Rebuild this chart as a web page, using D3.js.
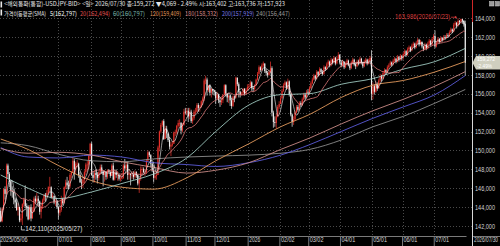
<!DOCTYPE html>
<html><head><meta charset="utf-8">
<script src="https://cdn.jsdelivr.net/npm/d3@7"></script>
<style>body{margin:0;background:#000;overflow:hidden}svg{display:block}</style>
</head><body><svg id="c" width="500" height="246"></svg>
<script>
// ---- data ----
const closes = [
142.5,143.8,145.9,145.4,148.4,147.5,146.7,145.7,145.6,144.8,144.5,143.7,144.0,142.6,142.8,144.3,144.8,144.1,144.0,
142.7,144.0,142.8,143.5,144.9,144.6,144.9,144.6,143.5,144.1,144.7,145.3,145.1,145.5,146.1,146.1,145.0,145.2,144.5,144.6,144.0,
143.4,143.7,144.9,144.4,146.1,146.6,146.3,146.2,147.4,147.7,148.9,148.0,148.6,148.6,147.4,146.6,146.5,146.9,147.7,148.5,148.5,149.5,150.7,
147.4,147.1,147.6,147.4,147.1,147.7,148.2,147.8,147.4,147.7,147.2,147.9,147.7,147.3,148.4,146.9,147.7,147.4,147.4,147.0,147.0,
147.1,148.4,148.1,148.5,147.4,147.5,147.4,147.4,147.2,147.7,147.4,146.5,147.0,148.0,148.0,147.7,147.7,148.9,149.8,149.5,148.6,147.9,
147.1,147.3,147.4,150.3,152.0,152.7,153.1,151.2,152.3,151.8,151.1,150.4,150.6,150.7,151.9,151.9,152.6,152.9,152.9,152.1,152.7,154.1,154.0,
154.2,153.6,154.1,153.1,153.4,154.1,154.1,154.8,154.5,154.6,155.2,155.5,157.4,157.5,156.4,156.9,156.1,156.5,156.3,156.2,
155.5,155.9,155.3,155.1,155.3,155.9,156.9,156.0,155.6,155.8,155.3,154.7,155.7,155.6,157.7,157.0,156.2,155.9,156.0,156.5,156.0,156.4,156.7,
156.8,157.2,156.6,156.5,156.9,157.5,158.1,158.8,158.5,159.0,159.2,158.4,158.2,158.0,158.3,158.7,154.0,153.0,152.9,153.6,154.6,154.9,
155.5,156.3,156.9,157.2,156.6,157.3,155.9,153.8,153.0,153.3,154.0,154.6,154.3,155.0,154.8,155.4,155.9,155.6,156.2,156.1,
156.6,157.1,157.5,157.9,157.6,158.3,158.0,158.6,158.3,158.1,158.8,158.6,159.1,159.4,159.0,159.6,159.3,159.8,159.2,159.7,160.1,159.3,
159.0,159.4,158.8,159.2,159.5,159.0,158.7,159.3,159.6,159.1,158.9,159.4,159.2,159.7,159.3,158.9,159.4,159.6,159.2,159.5,159.8,156.0,
156.8,156.2,157.0,156.6,157.4,157.9,157.6,158.2,158.5,158.3,158.8,159.0,159.3,159.1,159.5,159.7,159.4,159.9,159.6,160.0,159.8,
160.2,160.5,160.1,160.7,160.9,160.6,161.1,161.3,160.9,161.4,161.7,161.2,161.5,161.0,160.7,161.2,160.8,161.3,161.6,161.2,161.8,162.1,
161.0,161.4,161.8,161.5,161.9,161.7,162.0,161.9,162.2,162.1,162.5,162.8,162.6,163.3,163.5,163.2,163.7,163.6,163.9,163.7,163.341,159.272];
const highs = [
143.9,144.0,146.0,146.2,148.6,148.6,147.7,146.9,146.2,145.9,145.0,144.9,144.4,144.0,143.3,144.4,145.0,146.3,144.4,
144.2,144.2,144.3,144.0,145.1,145.2,145.5,145.2,144.7,144.5,144.9,145.4,145.5,145.8,146.2,147.2,146.2,145.5,145.2,144.9,144.7,
144.1,144.0,145.2,145.0,146.2,146.9,147.2,146.8,147.6,147.8,149.2,149.1,148.8,149.0,148.7,147.7,147.0,147.2,147.9,148.7,148.9,149.5,150.8,
150.9,147.8,147.9,148.0,147.7,147.8,148.5,148.5,147.9,147.9,147.8,148.0,148.0,147.8,148.6,148.7,147.9,148.0,147.8,147.5,147.4,
147.6,148.6,149.1,148.8,148.8,148.0,147.6,147.8,147.8,147.9,147.8,147.5,147.1,148.3,148.3,148.2,148.0,149.1,150.0,149.9,149.6,148.7,
148.4,147.7,147.8,150.5,152.1,152.9,153.2,153.3,152.6,152.6,151.6,151.4,150.9,151.0,152.0,152.2,152.7,153.2,153.3,153.0,152.9,154.4,154.5,
154.5,154.5,154.5,154.3,153.6,154.3,154.5,155.0,155.0,154.8,155.3,155.7,157.6,157.9,157.7,156.9,157.0,156.6,156.5,156.4,
155.9,156.2,156.0,155.5,155.6,155.9,157.0,157.0,156.0,155.9,155.9,155.5,155.8,155.8,157.8,157.7,157.2,156.3,156.2,156.6,156.6,156.6,157.0,
157.0,157.4,157.3,156.8,157.0,157.6,158.3,159.0,158.9,159.2,159.4,159.2,158.6,158.4,158.5,159.4,158.9,154.2,153.6,153.9,154.8,155.2,
155.7,156.5,157.1,157.4,157.3,157.6,157.4,156.0,153.9,153.6,154.2,154.8,154.8,155.2,155.2,155.6,156.1,156.1,156.4,156.5,
156.8,157.3,157.7,158.1,158.0,158.5,158.4,158.8,158.7,158.5,159.0,158.9,159.3,159.6,159.5,159.8,159.7,160.0,159.9,159.9,160.4,160.2,
159.5,159.6,159.4,159.4,159.7,159.6,159.1,159.5,159.8,159.7,159.3,159.6,159.6,159.9,159.8,159.4,159.6,159.8,159.7,159.7,160.0,160.6,
157.2,157.0,157.3,157.2,157.6,158.1,158.0,158.4,158.7,158.6,159.0,159.2,159.5,159.4,159.7,159.9,159.8,160.1,160.0,160.2,160.1,
160.4,160.7,160.6,160.9,161.1,161.0,161.3,161.5,161.4,161.6,161.9,161.8,161.7,161.5,161.1,161.4,161.3,161.5,161.8,161.7,162.0,162.3,
162.7,161.6,162.0,161.9,162.1,162.0,162.2,162.2,162.4,162.4,162.7,163.0,162.9,163.5,163.7,163.6,163.986,163.8,163.95,163.9,163.8,163.736];
const lows = [
142.4,142.4,143.7,144.8,145.4,147.0,146.1,145.2,145.0,144.3,143.9,143.6,143.1,142.4,142.4,142.11,144.0,143.9,143.0,
142.6,142.7,142.5,142.8,143.5,144.3,144.4,144.0,143.2,142.8,143.8,144.5,144.6,145.0,145.3,145.6,144.9,144.8,144.3,144.1,143.8,
142.7,143.1,143.5,144.2,144.4,145.9,145.9,145.9,146.0,147.1,147.6,146.9,147.5,148.2,147.1,146.6,145.9,146.0,146.5,147.4,147.8,148.0,149.1,
147.3,146.6,146.6,146.9,146.5,146.8,147.4,147.5,146.2,146.7,146.9,147.0,147.6,147.1,147.4,146.8,146.8,147.1,146.8,146.8,146.7,
146.9,147.0,147.8,147.9,146.9,146.9,146.3,147.0,146.9,147.0,147.1,146.3,145.5,146.8,147.4,147.6,147.3,147.5,148.8,149.3,148.2,147.7,
146.6,146.9,146.9,148.1,149.9,151.8,152.5,151.1,151.5,151.3,150.9,150.1,149.4,150.4,150.7,151.5,151.7,152.4,152.5,151.7,151.9,152.6,153.8,
153.7,153.0,153.3,152.9,152.8,153.2,153.8,154.0,154.1,154.1,154.5,154.8,155.2,157.0,155.8,156.2,155.8,155.6,155.9,155.8,
154.9,155.4,155.0,154.6,154.8,155.0,155.8,155.7,155.1,155.0,154.7,154.4,154.6,155.1,155.5,156.8,155.6,155.6,155.8,155.8,155.8,156.0,156.3,
156.4,156.6,156.3,156.2,156.3,156.8,157.4,158.0,158.3,158.4,158.8,158.2,157.9,157.7,157.9,158.2,153.6,152.4,152.5,152.3,153.5,154.4,
155.0,155.6,156.2,156.8,156.4,156.5,155.7,153.6,152.5,152.7,153.2,153.9,154.1,154.2,154.6,154.7,155.3,155.4,155.5,155.9,
155.9,156.5,157.0,157.4,157.4,157.5,157.8,157.9,158.1,157.9,158.0,158.4,158.5,158.9,158.8,158.9,159.1,159.2,159.0,159.1,159.6,159.1,
158.8,158.9,158.6,158.7,159.0,158.9,158.5,158.6,159.1,158.9,158.6,158.8,159.0,159.1,159.1,158.7,158.8,159.2,159.0,159.1,159.4,155.3,
155.4,155.9,156.1,156.3,156.5,157.2,157.3,157.5,158.0,158.0,158.2,158.6,158.9,158.9,159.0,159.3,159.2,159.3,159.4,159.5,159.5,
159.6,160.0,159.9,160.0,160.5,160.4,160.5,160.9,160.7,160.8,161.2,161.0,161.1,160.8,160.5,160.6,160.6,160.7,161.1,161.0,161.1,161.7,
160.8,160.9,161.3,161.3,161.4,161.5,161.6,161.7,161.8,161.9,162.0,162.4,162.4,162.5,163.1,162.9,163.1,163.3,163.4,163.4,163.1,157.923];
const firstOpen = 143.6;      // open of 2025/05/06
const lastOpen = 163.402;     // 시 of 2026/07/30

// long moving averages read at month starts
const maDates = ["2025-05-06","2025-06-02","2025-07-01","2025-08-01","2025-09-01","2025-10-01","2025-11-03","2025-12-01","2026-01-01","2026-02-02","2026-03-02","2026-04-01","2026-05-01","2026-06-01","2026-07-01","2026-07-30"];
const ma60  = [147.4,146.0,144.9,145.6,146.5,147.5,149.2,152.0,154.8,155.9,156.0,157.0,157.6,158.6,159.4,160.797];
const ma120 = [151.2,150.1,148.4,146.8,146.1,145.9,147.1,148.9,150.7,152.5,153.8,155.6,156.9,157.4,158.3,159.409];
const ma180 = [150.2,149.7,149.8,149.5,148.8,148.2,147.6,147.9,148.7,150.1,151.3,152.8,154.2,155.4,156.8,158.332];
const ma200 = [150.3,149.3,149.2,149.5,149.3,148.7,148.5,148.3,148.7,149.5,150.6,152.0,153.4,154.6,155.9,157.919];
const ma240 = [150.8,150.5,149.6,148.9,148.8,149.1,149.3,149.4,149.5,149.7,150.1,151.1,152.5,153.6,155.0,156.447];

const tickDates  = ["2025-05-06","2025-07-01","2025-08-01","2025-09-01","2025-10-01","2025-11-03","2025-12-01","2026-01-01","2026-02-02","2026-03-02","2026-04-01","2026-05-01","2026-06-01","2026-07-01"];
const tickLabels = ["2025/05/06","07/01","08/01","09/01","10/01","11/03","12/01","2026","02/02","03/02","04/01","05/01","06/01","07/01"];
const lastDateLabel = "2026/07/30";
const yTicks = [142,144,146,148,150,152,154,156,158,160,162,164];

const headerLine1 = "<해외통화(통합)-USDJPY-BID> <일> 2026/07/30 종:159,272 ▼4,069 - 2.49% 시:163,402 고:163,736 저:157,923";
const legendTitle = "가격이동평균(SMA)";
const legendPeriods = ["5","20","60","120","180","200","240"];
const legendValues  = ["162,797","162,494","160,797","159,409","158,332","157,919","156,447"];
const highText = "163,986(2026/07/23)";
const lowText = "142,110(2025/05/27)";
const lastPriceText = "159,272";
const lastPctText = "-2.49%";

// ---- drawing ----
const W = 500, H = 246, PR = 472, AXY = 236;
const col = {up:"#e8322c", down:"#f0f0f0", ma5:"#ffffff", ma20:"#e07a7a", ma60:"#9cc6bd",
             ma120:"#e39a5c", ma180:"#c98a86", ma200:"#5a5ad8", ma240:"#8c8c8c"};
const numFont = "Liberation Sans Narrow, Liberation Sans, sans-serif";
const svg = d3.select("#c");
svg.append("rect").attr("width",W).attr("height",H).attr("fill","#000");

const fmtDay = d3.timeFormat("%Y-%m-%d");
const days = d3.timeDay.range(new Date(2025,4,6), new Date(2026,6,31))
  .filter(d => d.getDay() !== 0 && d.getDay() !== 6).map(fmtDay);
const x = d3.scaleBand().domain(days).range([0,466]);
const bw = x.bandwidth();
const y = d3.scaleLinear().domain([142,162]).range([226,37]);
const cx = d => x(d) + bw/2;

const candles = days.map((d,i) => {
  const o = i === 0 ? firstOpen : (i === days.length-1 ? lastOpen : closes[i-1]);
  const c = closes[i];
  return {d, o, c, h: Math.max(highs[i], o, c), l: Math.min(lows[i], o, c)};
});

// grid
const grid = svg.append("g");
grid.selectAll("line.h").data(yTicks).join("line").attr("class","h")
  .attr("x1",0).attr("x2",PR).attr("y1",v=>Math.round(y(v))+0.5).attr("y2",v=>Math.round(y(v))+0.5)
  .attr("stroke","#4a4a4a").attr("stroke-width",1).attr("stroke-dasharray","1,2");
grid.selectAll("line.v").data(tickDates.slice(1)).join("line").attr("class","v")
  .attr("x1",d=>Math.round(x(d))+0.5).attr("x2",d=>Math.round(x(d))+0.5).attr("y1",0).attr("y2",AXY)
  .attr("stroke","#4a4a4a").attr("stroke-width",1).attr("stroke-dasharray","1,2");

// candles
const cg = svg.append("g");
cg.selectAll("line").data(candles).join("line")
  .attr("x1",k=>cx(k.d)).attr("x2",k=>cx(k.d)).attr("y1",k=>y(k.h)).attr("y2",k=>y(k.l))
  .attr("stroke",k=>k.c>=k.o?col.up:col.down).attr("stroke-width",0.7);
cg.selectAll("rect").data(candles).join("rect")
  .attr("x",k=>cx(k.d)-0.55).attr("width",1.1)
  .attr("y",k=>y(Math.max(k.o,k.c))).attr("height",k=>Math.max(0.7, Math.abs(y(k.o)-y(k.c))))
  .attr("fill",k=>k.c>=k.o?col.up:col.down);

// moving averages
const line = d3.line().x(p=>cx(p[0])).y(p=>y(p[1])).curve(d3.curveMonotoneX);
const sma = n => days.map((d,i)=>[d, d3.mean(closes.slice(Math.max(0,i-n+1), i+1))]);
const sparse = arr => maDates.map((d,i)=>[d, arr[i]]);
const mg = svg.append("g").attr("fill","none");
[[ma240,col.ma240],[ma200,col.ma200],[ma180,col.ma180],[ma120,col.ma120],[ma60,col.ma60]].forEach(([a,c])=>{
  mg.append("path").attr("d",line(sparse(a))).attr("stroke",c).attr("stroke-width",0.9);
});
mg.append("path").attr("d",line(sma(20))).attr("stroke",col.ma20).attr("stroke-width",0.8);
mg.append("path").attr("d",line(sma(5))).attr("stroke",col.ma5).attr("stroke-width",0.7).attr("opacity",0.85);

// y axis (right)
const numFmt = v => d3.format(".3f")(v).replace(".", ",");
const ya = svg.append("g").attr("transform",`translate(${PR},0)`)
  .call(d3.axisRight(y).tickValues(yTicks).tickSize(0).tickPadding(3).tickFormat(numFmt));
ya.select(".domain").remove();
ya.selectAll("text").attr("fill","#d4d4d4").attr("font-size",7).attr("font-family",numFont)
  .attr("textLength",20).attr("lengthAdjust","spacingAndGlyphs");

// x axis
const xa = svg.append("g").attr("transform",`translate(0,${AXY})`)
  .call(d3.axisBottom(x).tickValues(tickDates).tickSizeInner(10).tickSizeOuter(0).tickFormat((d,i)=>tickLabels[i]));
xa.select(".domain").attr("stroke","#7a7a7a");
xa.selectAll(".tick line").attr("stroke","#7a7a7a").attr("transform",`translate(${-bw/2},0)`);
xa.selectAll(".tick text").attr("fill","#d4d4d4").attr("font-size",6.8).attr("font-family",numFont)
  .attr("text-anchor","start").attr("x",(d,i)=>i===0? -bw/2 : 1-bw/2 ).attr("y",1.2).attr("dy","0.71em")
  .attr("textLength",(d,i)=>tickLabels[i].length*2.75).attr("lengthAdjust","spacingAndGlyphs");
svg.append("line").attr("x1",PR).attr("x2",W).attr("y1",AXY+0.5).attr("y2",AXY+0.5).attr("stroke","#7a7a7a");
svg.append("text").attr("x",PR+2).attr("y",AXY+1.2).attr("dy","0.71em").text(lastDateLabel)
  .attr("fill","#d4d4d4").attr("font-size",6.8).attr("font-family",numFont)
  .attr("textLength",24).attr("lengthAdjust","spacingAndGlyphs");

// right border
svg.append("line").attr("x1",PR+0.5).attr("x2",PR+0.5).attr("y1",22).attr("y2",H).attr("stroke","#d8d8d8").attr("stroke-width",1);
svg.append("line").attr("x1",PR+0.5).attr("x2",PR+0.5).attr("y1",0).attr("y2",22).attr("stroke","#d02828").attr("stroke-width",1);

// last price tag
const lp = y(closes[closes.length-1]);
svg.append("path").attr("d",`M${PR+0.5},${lp} L${PR+4},${lp-6.8} L${W},${lp-6.8} L${W},${lp+6.8} L${PR+4},${lp+6.8} Z`).attr("fill","#cfcfbf");
svg.append("text").attr("x",PR+5).attr("y",lp-1.6).text(lastPriceText).attr("fill","#ffffff").attr("font-size",4.6)
  .attr("font-family",numFont).attr("textLength",18).attr("lengthAdjust","spacingAndGlyphs");
svg.append("text").attr("x",PR+5).attr("y",lp+5.6).text(lastPctText).attr("fill","#ffffff").attr("font-size",4.6)
  .attr("font-family",numFont).attr("textLength",15).attr("lengthAdjust","spacingAndGlyphs");

// high / low annotations
const hiIdx = highs.indexOf(d3.max(highs));
const hx = cx(days[hiIdx]), hy = y(highs[hiIdx]);
svg.append("text").attr("x",hx-8).attr("y",hy+1.2).attr("text-anchor","end").text(highText)
  .attr("fill","#d63a3a").attr("font-size",7).attr("font-family",numFont)
  .attr("textLength",55).attr("lengthAdjust","spacingAndGlyphs");
svg.append("line").attr("x1",hx-7).attr("x2",hx-1.5).attr("y1",hy-1).attr("y2",hy-1).attr("stroke","#d63a3a").attr("stroke-width",0.8);
svg.append("path").attr("d",`M${hx-1},${hy-1} l-2.2,-1.6 l0,3.2 Z`).attr("fill","#d63a3a");
const loIdx = lows.indexOf(d3.min(lows));
const lx = cx(days[loIdx]), ly = y(lows[loIdx]);
svg.append("path").attr("d",`M${lx-1},${ly+1} V${ly+5} H${lx+2.5}`).attr("stroke","#e0e0e0").attr("fill","none").attr("stroke-width",0.8);
svg.append("text").attr("x",lx+3).attr("y",ly+6.5).text(lowText)
  .attr("fill","#e0e0e0").attr("font-size",7).attr("font-family",numFont)
  .attr("textLength",57).attr("lengthAdjust","spacingAndGlyphs");

// header
const hdrFont = "Noto Sans CJK KR, sans-serif";
svg.append("rect").attr("x",0.5).attr("y",1.5).attr("width",1.6).attr("height",6).attr("fill","#e8e8e8");
svg.append("rect").attr("x",0.5).attr("y",9.5).attr("width",1.6).attr("height",6).attr("fill","#e8e8e8");
svg.append("text").attr("x",4).attr("y",6.3).text(headerLine1).attr("fill","#e4e4e4").attr("font-size",6.2)
  .attr("font-family",hdrFont).attr("textLength",281).attr("lengthAdjust","spacingAndGlyphs");
svg.append("text").attr("x",4).attr("y",15.6).text(legendTitle).attr("fill","#e4e4e4").attr("font-size",6.2)
  .attr("font-family",hdrFont).attr("textLength",42).attr("lengthAdjust","spacingAndGlyphs");
const legX = [50,80,113,150,185,222,256];
const legW = [27,30,32,31,33,32,34];
const legC = [col.ma5,"#e05050","#7fb8ad",col.ma120,"#d48686","#7a7ae8","#9a9a9a"];
legendPeriods.forEach((p,i)=>{
  svg.append("text").attr("x",legX[i]).attr("y",15.6).text(`${p}(${legendValues[i]})`)
    .attr("fill",legC[i]).attr("font-size",6.2).attr("font-family",hdrFont)
    .attr("textLength",legW[i]).attr("lengthAdjust","spacingAndGlyphs");
});
// top-right icons
svg.append("rect").attr("x",489.5).attr("y",1.5).attr("width",4.5).attr("height",4.5).attr("fill","#9a9a9a").attr("stroke","#cfcfcf").attr("stroke-width",0.5);
svg.append("rect").attr("x",495.5).attr("y",1.5).attr("width",4).attr("height",4.5).attr("fill","#9a9a9a").attr("stroke","#cfcfcf").attr("stroke-width",0.5);
</script>
</body></html>
